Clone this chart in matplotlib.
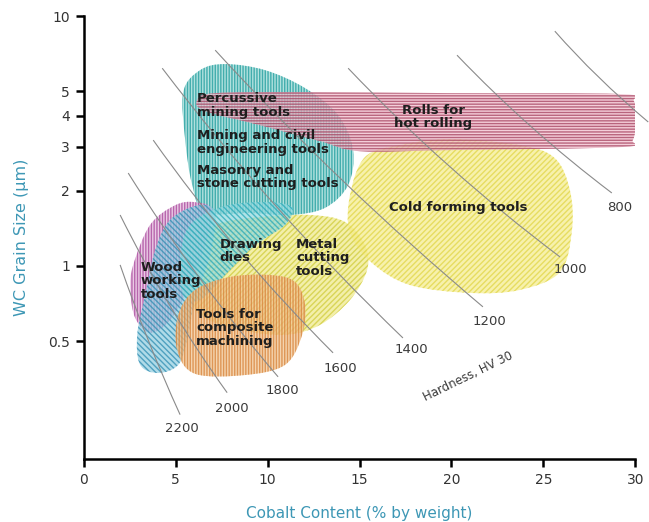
import numpy as np
import matplotlib.pyplot as plt
from matplotlib.path import Path
from matplotlib.patches import PathPatch

plt.rcParams['font.family'] = 'DejaVu Sans'
plt.rcParams['hatch.linewidth'] = 1.0

# Application fields: outline points as (cobalt wt %, WC grain size in um)
mining_co = [5.41, 6.33, 7.69, 9.86, 12.04, 13.83, 14.65, 14.38, 13.13, 11.22, 9.05, 6.60, 5.90, 5.52]
mining_wc = [4.97, 6.08, 6.43, 6.08, 5.15, 4.02, 2.91, 2.11, 1.71, 1.60, 1.63, 1.64, 2.11, 3.19]

rolls_co = [6.17, 7.15, 11.77, 19.92, 29.16, 29.92, 30.03, 29.86, 29.16, 19.92, 15.03, 12.85, 9.59, 6.60]
rolls_wc = [4.61, 4.92, 4.97, 4.92, 4.88, 4.57, 3.84, 3.19, 2.99, 2.91, 2.88, 3.16, 3.66, 4.17]

cold_co = [14.48, 15.30, 17.20, 19.92, 23.72, 25.62, 26.44, 26.55, 25.90, 23.72, 21.01, 17.74, 15.68, 14.48]
cold_wc = [1.92, 2.73, 3.05, 3.22, 3.05, 2.70, 2.01, 1.39, 0.946, 0.802, 0.780, 0.839, 1.028, 1.355]

metal_co = [5.52, 7.15, 9.59, 12.31, 14.21, 15.30, 15.41, 14.48, 12.85, 10.95, 8.51, 6.33, 5.35]
metal_wc = [1.16, 1.46, 1.57, 1.60, 1.50, 1.21, 0.964, 0.731, 0.581, 0.530, 0.555, 0.637, 0.839]

compo_co = [6.06, 7.96, 10.14, 11.49, 12.04, 11.88, 10.95, 8.78, 6.06, 5.08, 5.14]
compo_wc = [0.802, 0.904, 0.920, 0.863, 0.698, 0.530, 0.402, 0.366, 0.370, 0.461, 0.637]

dies_co = [5.79, 7.69, 10.14, 11.33, 10.95, 9.32, 7.69, 6.33, 5.41, 5.24]
dies_wc = [1.46, 1.74, 1.80, 1.71, 1.46, 1.21, 0.920, 0.731, 0.766, 1.057]

wood_co = [2.69, 3.61, 4.97, 6.06, 6.98, 6.60, 5.79, 4.70, 3.61, 2.80, 2.53]
wood_wc = [1.009, 1.46, 1.75, 1.80, 1.67, 1.21, 0.839, 0.608, 0.540, 0.619, 0.802]

wood2_co = [4.70, 6.22, 7.15, 6.88, 6.06, 5.62, 5.14, 4.05, 3.07, 2.91, 3.34, 3.89]
wood2_wc = [1.53, 1.75, 1.63, 1.107, 0.731, 0.506, 0.402, 0.373, 0.402, 0.530, 0.766, 1.16]

# Hardness HV30 isolines: start, middle, end points
hv_values = [600, 800, 1000, 1200, 1400, 1600, 1800, 2000, 2200]
hv_co = [[25.62, 28.00, 30.70], [20.30, 24.35, 28.72], [14.38, 19.90, 25.90],
         [7.15, 14.15, 21.71], [4.27, 10.50, 17.36], [3.78, 8.40, 13.56],
         [2.42, 6.30, 10.57], [1.98, 4.70, 7.80], [1.98, 3.50, 5.24]]
hv_wc = [[8.71, 5.70, 3.77], [6.98, 3.60, 1.96], [6.19, 2.50, 1.087],
         [7.31, 2.17, 0.686], [6.19, 1.72, 0.515], [3.19, 1.16, 0.449],
         [2.355, 0.895, 0.360], [1.60, 0.69, 0.311], [1.01, 0.505, 0.254]]
hv_label_co = [None, 29.16, 26.44, 22.09, 17.80, 13.94, 10.79, 8.07, 5.35]
hv_label_wc = [None, 1.72, 0.964, 0.597, 0.461, 0.387, 0.316, 0.268, 0.223]


def blob_path(xs, ys):
    """Closed Catmull-Rom outline, built in (x, log y) so it stays smooth on the log axis."""
    p = np.column_stack([xs, np.log10(ys)])
    n = len(p)
    verts = [p[0]]
    codes = [Path.MOVETO]
    for i in range(n):
        p0, p1, p2, p3 = p[i - 1], p[i], p[(i + 1) % n], p[(i + 2) % n]
        verts += [p1 + (p2 - p0) / 6, p2 - (p3 - p1) / 6, p2]
        codes += [Path.CURVE4] * 3
    verts.append(p[0])
    codes.append(Path.CLOSEPOLY)
    verts = np.array(verts)
    verts[:, 1] = 10 ** verts[:, 1]
    return Path(verts, codes)


def bend_path(xs, ys):
    """Quadratic curve through three points (passes the middle one at t=0.5)."""
    p = np.column_stack([xs, np.log10(ys)])
    ctrl = 2 * p[1] - (p[0] + p[2]) / 2
    verts = np.array([p[0], ctrl, p[2]])
    verts[:, 1] = 10 ** verts[:, 1]
    return Path(verts, [Path.MOVETO, Path.CURVE3, Path.CURVE3])


fig, ax = plt.subplots(figsize=(6.49, 5.22), dpi=100)
fig.subplots_adjust(left=0.129, right=0.979, bottom=0.121, top=0.969)

ax.set_yscale('log')
ax.set_xlim(0, 30)
ax.set_ylim(0.169, 10)

fields = [
    (metal_co, metal_wc, '#efea8a', '#cfcb38', '//////'),
    (cold_co, cold_wc, '#f4ec8c', '#e0d544', '//////'),
    (mining_co, mining_wc, '#93d6d2', '#17999a', '||||||'),
    (rolls_co, rolls_wc, '#f0bccb', '#a23c5a', '------'),
    (wood_co, wood_wc, '#e2b6dc', '#a43f97', '||||||'),
    (wood2_co, wood2_wc, '#92cde0', '#2a8ab0', '\\\\\\\\\\\\'),
    (dies_co, dies_wc, '#92d9de', '#22a6b6', '\\\\\\\\\\\\'),
    (compo_co, compo_wc, '#f1c490', '#d67e34', '||||||'),
]
for i, (xs, ys, face, hatch_col, hatch) in enumerate(fields):
    patch = PathPatch(blob_path(xs, ys), facecolor=face, edgecolor=hatch_col,
                      hatch=hatch, lw=0, alpha=0.72, zorder=1 + i * 0.1)
    ax.add_patch(patch)

for k, hv in enumerate(hv_values):
    line = PathPatch(bend_path(hv_co[k], hv_wc[k]), facecolor='none',
                     edgecolor='#8a8a8a', lw=0.8, zorder=3, clip_on=False)
    ax.add_patch(line)
    if hv_label_co[k] is not None:
        ax.text(hv_label_co[k], hv_label_wc[k], str(hv), fontsize=9.5,
                color='#3a3a3a', ha='center', va='center', zorder=4)

ax.text(20.9, 0.36, 'Hardness, HV 30', fontsize=8.5, color='#3a3a3a',
        rotation=26, ha='center', va='center', zorder=4)

# field names
lab = dict(fontsize=9.5, fontweight='bold', color='#1e1e1e', va='top',
           ha='left', linespacing=1.05, zorder=5)
ax.text(6.17, 4.95, 'Percussive\nmining tools', **lab)
ax.text(6.17, 3.52, 'Mining and civil\nengineering tools', **lab)
ax.text(6.17, 2.57, 'Masonry and\nstone cutting tools', **lab)
ax.text(19.0, 4.47, 'Rolls for\nhot rolling', **{**lab, 'ha': 'center'})
ax.text(16.60, 1.72, 'Cold forming tools', **{**lab, 'va': 'center'})
ax.text(7.40, 1.30, 'Drawing\ndies', **lab)
ax.text(11.55, 1.30, 'Metal\ncutting\ntools', **lab)
ax.text(3.10, 1.05, 'Wood\nworking\ntools', **lab)
ax.text(6.11, 0.68, 'Tools for\ncomposite\nmachining', **lab)

ax.set_yticks([0.5, 1, 2, 3, 4, 5, 10])
ax.set_yticklabels(['0.5', '1', '2', '3', '4', '5', '10'])
ax.yaxis.set_minor_locator(plt.NullLocator())
ax.set_xticks(range(0, 31, 5))

for side in ('top', 'right'):
    ax.spines[side].set_visible(False)
for side in ('left', 'bottom'):
    ax.spines[side].set_linewidth(1.8)
ax.tick_params(direction='out', length=6, width=1.8, labelsize=10,
               labelcolor='#333333', pad=4)

ax.set_xlabel('Cobalt Content (% by weight)', fontsize=11, color='#3d97b5',
              labelpad=14)
ax.set_ylabel('WC Grain Size (\u03bcm)', fontsize=11.5, color='#3d97b5',
              labelpad=14)

fig.savefig('out.png', dpi=100)
